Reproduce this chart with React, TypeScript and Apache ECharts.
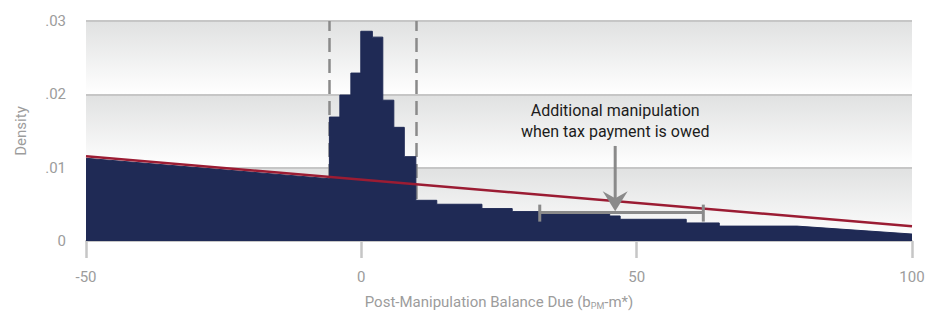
import React, { useEffect, useRef } from 'react';
import * as echarts from 'echarts';

// Axis tick labels
const xTickLabels = ['-50', '0', '50', '100'];
const yTickValues = [0, 0.01, 0.02, 0.03];
const yTickLabels = ['0', '.01', '.02', '.03'];

// Post-manipulation density
const leftSlopeX = [-50, -5.8];
const leftSlopeY = [0.01128, 0.00849];
const windowEdges = [-5.8, -3.9, -1.9, -0.1, 2.0, 3.9, 5.9, 7.8, 9.9];
const windowDensity = [0.0169, 0.0199, 0.0229, 0.0286, 0.0278, 0.0192, 0.0155, 0.0115];
const rightEdges = [9.9, 13.7, 21.9, 27.4, 45.1, 47.0, 59.0, 65.0, 79.1];
const rightDensity = [0.00555, 0.00501, 0.00442, 0.00401, 0.00341, 0.00296, 0.00246, 0.00203];
const tailX = [79.1, 100];
const tailY = [0.00203, 0.00095];

// Counterfactual density line
const counterfactualX = [-50, 100];
const counterfactualY = [0.01155, 0.002];

// Bunching window bounds (dashed lines)
const windowBounds = [-5.8, 9.9];

// Annotation
const bracketX = [32.4, 62.1];
const bracketY = 0.00387;
const arrowX = 46.1;
const arrowY = [0.01296, 0.00405];
const noteLines = ['Additional manipulation', 'when tax payment is owed'];
const noteY = [0.01783, 0.01487];

const FONT = "'Roboto', 'Liberation Sans', sans-serif";
const AXIS_GRAY = '#c6c6c6';
const LABEL_GRAY = '#9c9c9c';
const NAVY = '#1f2a55';
const RED = '#9b1c33';
const NOTE_GRAY = '#8a8a8a';

function buildHistogram(): number[][] {
  const pts: number[][] = [];
  for (let i = 0; i < leftSlopeX.length; i++) pts.push([leftSlopeX[i], leftSlopeY[i]]);
  for (let i = 0; i < windowDensity.length; i++) {
    pts.push([windowEdges[i], windowDensity[i]]);
    pts.push([windowEdges[i + 1], windowDensity[i]]);
  }
  for (let i = 0; i < rightDensity.length; i++) {
    pts.push([rightEdges[i], rightDensity[i]]);
    pts.push([rightEdges[i + 1], rightDensity[i]]);
  }
  for (let i = 0; i < tailX.length; i++) pts.push([tailX[i], tailY[i]]);
  return pts;
}

export default function App() {
  const ref = useRef<HTMLDivElement>(null);

  useEffect(() => {
    document.body.style.margin = '0';
    if (!ref.current) return;
    const chart = echarts.init(ref.current, null, { renderer: 'svg' });

    const bands: number[][] = [];
    for (let i = 0; i < yTickValues.length - 1; i++) {
      bands.push([yTickValues[i], yTickValues[i + 1]]);
    }

    const option: any = {
      animation: false,
      grid: { left: 86, right: 17, top: 21, bottom: 77 },
      xAxis: {
        type: 'value',
        min: -50,
        max: 100,
        interval: 50,
        z: 0,
        name: 'Post-Manipulation Balance Due (b{sub|PM}-m*)',
        nameLocation: 'middle',
        nameGap: 52,
        nameTextStyle: {
          color: LABEL_GRAY,
          fontSize: 15,
          fontFamily: FONT,
          rich: {
            sub: { fontSize: 9, color: LABEL_GRAY, fontFamily: FONT, padding: [8, 0, 0, 0] },
          },
        },
        axisLine: { show: true, lineStyle: { color: AXIS_GRAY, width: 2 } },
        axisTick: { show: true, length: 17, lineStyle: { color: AXIS_GRAY, width: 2.5 } },
        axisLabel: {
          color: LABEL_GRAY,
          fontSize: 15,
          fontFamily: FONT,
          margin: 28,
          formatter: (_v: number, i: number) => xTickLabels[i],
        },
        splitLine: { show: false },
      },
      yAxis: {
        type: 'value',
        min: 0,
        max: 0.03,
        interval: 0.01,
        z: 0,
        name: 'Density',
        nameLocation: 'middle',
        nameGap: 58,
        nameTextStyle: { color: LABEL_GRAY, fontSize: 15, fontFamily: FONT },
        axisLine: { show: true, lineStyle: { color: 'rgba(0,0,0,0)', width: 0 } },
        axisTick: { show: true, length: 12, lineStyle: { color: AXIS_GRAY, width: 2 } },
        axisLabel: {
          color: LABEL_GRAY,
          fontSize: 15,
          fontFamily: FONT,
          margin: 20,
          formatter: (_v: number, i: number) => yTickLabels[i],
        },
        splitLine: { show: true, lineStyle: { color: AXIS_GRAY, width: 2 } },
      },
      series: [
        {
          type: 'custom',
          z: -1,
          silent: true,
          data: bands,
          encode: { y: [0, 1] },
          renderItem: (params: any, api: any) => {
            const lo = api.value(0);
            const hi = api.value(1);
            const top = api.coord([-50, hi]);
            const bot = api.coord([100, lo]);
            return {
              type: 'rect',
              shape: { x: top[0], y: top[1], width: bot[0] - top[0], height: bot[1] - top[1] },
              style: {
                fill: new echarts.graphic.LinearGradient(0, 0, 0, 1, [
                  { offset: 0, color: '#e0e1e1' },
                  { offset: 1, color: '#ffffff' },
                ]),
              },
            };
          },
        },
        {
          type: 'line',
          z: 1,
          data: [],
          silent: true,
          markLine: {
            silent: true,
            z: 1,
            symbol: 'none',
            label: { show: false },
            lineStyle: { color: NOTE_GRAY, width: 2.5, type: [14, 7] },
            data: windowBounds.map((x) => [
              { coord: [x, 0] },
              { coord: [x, 0.03] },
            ]),
          },
        },
        {
          type: 'line',
          z: 2,
          data: buildHistogram(),
          showSymbol: false,
          symbol: 'none',
          lineStyle: { color: NAVY, width: 1 },
          areaStyle: { color: NAVY, opacity: 1 },
        },
        {
          type: 'line',
          z: 4,
          data: counterfactualX.map((x, i) => [x, counterfactualY[i]]),
          showSymbol: false,
          symbol: 'none',
          lineStyle: { color: RED, width: 2.5 },
        },
        {
          type: 'custom',
          z: 5,
          data: [[arrowX, arrowY[1]]],
          renderItem: (_params: any, api: any) => {
            const b0 = api.coord([bracketX[0], bracketY]);
            const b1 = api.coord([bracketX[1], bracketY]);
            const a0 = api.coord([arrowX, arrowY[0]]);
            const a1 = api.coord([arrowX, arrowY[1]]);
            const t0 = api.coord([arrowX, noteY[0]]);
            const t1 = api.coord([arrowX, noteY[1]]);
            const stroke = { stroke: NOTE_GRAY, lineWidth: 3 };
            return {
              type: 'group',
              children: [
                { type: 'line', shape: { x1: b0[0], y1: b0[1], x2: b1[0], y2: b1[1] }, style: stroke },
                { type: 'line', shape: { x1: b0[0], y1: b0[1] - 8, x2: b0[0], y2: b0[1] + 9 }, style: stroke },
                { type: 'line', shape: { x1: b1[0], y1: b1[1] - 8, x2: b1[0], y2: b1[1] + 9 }, style: stroke },
                { type: 'line', shape: { x1: a0[0], y1: a0[1], x2: a1[0], y2: a1[1] - 12 }, style: stroke },
                {
                  type: 'polygon',
                  shape: {
                    points: [
                      [a1[0], a1[1]],
                      [a1[0] - 12.5, a1[1] - 20],
                      [a1[0], a1[1] - 13],
                      [a1[0] + 12.5, a1[1] - 20],
                    ],
                  },
                  style: { fill: NOTE_GRAY },
                },
                {
                  type: 'text',
                  style: {
                    text: noteLines[0], x: t0[0], y: t0[1], align: 'center', verticalAlign: 'middle',
                    fontSize: 16, fontFamily: FONT, fill: '#1c1c1c',
                  },
                },
                {
                  type: 'text',
                  style: {
                    text: noteLines[1], x: t1[0], y: t1[1], align: 'center', verticalAlign: 'middle',
                    fontSize: 16, fontFamily: FONT, fill: '#1c1c1c',
                  },
                },
              ],
            };
          },
        },
      ],
    };

    chart.setOption(option);
    return () => chart.dispose();
  }, []);

  return (
    <div
      ref={ref}
      style={{ width: 929, height: 318, position: 'absolute', left: 0, top: 0 }}
    />
  );
}
